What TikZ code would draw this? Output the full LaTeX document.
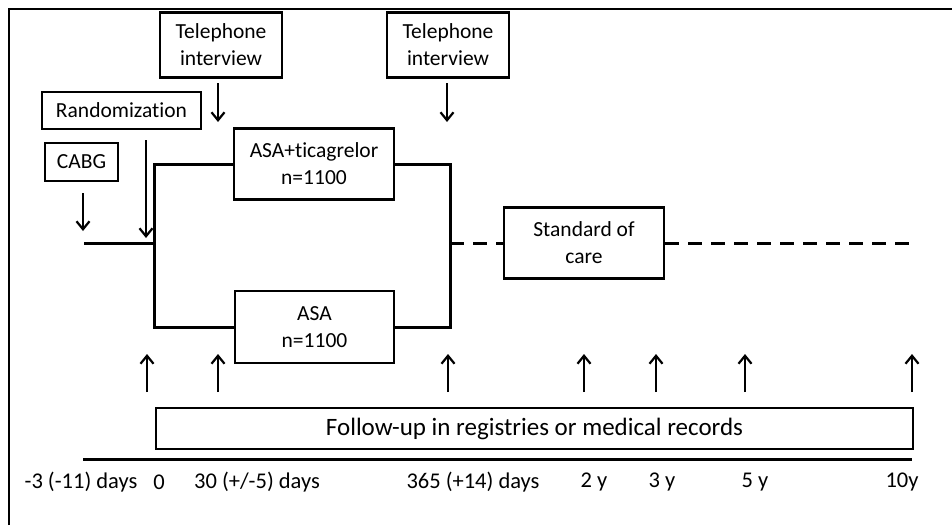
\documentclass[tikz,border=0pt]{standalone}
\usepackage{fontspec}
\setmainfont[Ligatures=NoCommon]{Carlito}
\usepackage{tikz}
\usetikzlibrary{arrows.meta, positioning, calc}

\begin{document}
\begin{tikzpicture}[x=1pt, y=-1pt,
        box/.style={draw, line width=2.6pt, inner sep=0pt, align=center, font=\fontsize{21.5}{27}\selectfont},
        line/.style={line width=3pt},
        dline/.style={line width=3pt, dash pattern=on 14pt off 9pt},
        arr/.style={line width=2.2pt, -{Straight Barb[length=8pt, width=13pt, line width=2.2pt]}},
        lab/.style={font=\fontsize{22.5}{27}\selectfont}]
        \useasboundingbox (0,0) rectangle (952,525);

        % frame
        \draw[line width=2pt] (9,525) -- (9,9) -- (952,9);

        % time points on the axis
        \foreach \n/\x in {m3/83, t0/147, t30/218, t365/448, t2/584, t3/656, t5/745, t10/912}
            \coordinate (\n) at (\x,459);

        \node[box, minimum width=122pt, minimum height=65pt] (tel1) at (221,45) {Telephone\\interview};
        \node[box, minimum width=122pt, minimum height=65pt] (tel2) at (448,45) {Telephone\\interview};
        \node[box, minimum width=159pt, minimum height=37pt] (rand) at (121.5,110.5) {Randomization};
        \node[box, minimum width=73pt, minimum height=38pt] (cabg) at (81.5,162) {CABG};
        \node[box, minimum width=160pt, minimum height=71pt] (asaT) at (314,164) {ASA+ticagrelor\\n=1100};
        \node[box, minimum width=159pt, minimum height=72pt] (asa) at (314.5,327) {ASA\\n=1100};
        \node[box, minimum width=160pt, minimum height=71pt] (soc) at (584,243) {Standard of\\care};
        \node[box, line width=2pt, minimum width=757pt, minimum height=41pt, font=\fontsize{25}{30}\selectfont] (fu) at (534.5,428.5) {Follow-up in registries or medical records};

        \coordinate (start) at (84,243);
        \coordinate (split) at (154,243);
        \coordinate (join) at (450,243);
        \coordinate (end) at (912,243);

        \draw[line] (start) -- (split);
        \draw[line] (asaT.west) -| (split) |- (asa.west);
        \draw[line] (asaT.east) -| (join) |- (asa.east);
        \draw[dline] (join) -- (soc.west);
        \draw[dline] (soc.east) -- (end);

        % event arrows
        \coordinate (cabgA) at (83,193);
        \coordinate (cabgB) at (83,231);
        \coordinate (randA) at (146,140);
        \coordinate (randB) at (146,238);
        \coordinate (telA) at (218,83);
        \coordinate (telB) at (218,122);
        \coordinate (telC) at (447,83);
        \coordinate (telD) at (447,122);
        \draw[arr] (cabgA) -- (cabgB);
        \draw[arr] (randA) -- (randB);
        \draw[arr] (telA) -- (telB);
        \draw[arr] (telC) -- (telD);

        \foreach \t in {t0, t30, t365, t2, t3, t5, t10}
            \draw[arr] ($(\t)+(0,-67)$) -- ($(\t)+(0,-105)$);

        % time axis
        \draw[line] (m3) -- (t10);
        \node[lab] (lm3) at (81,482) {-3 (-11) days};
        \node[lab] (l0) at (159,482) {0};
        \node[lab] (l30) at (257,482) {30 (+/-5) days};
        \node[lab] (l365) at (473,482) {365 (+14) days};
        \node[lab] (l2) at (594,482) {2 y};
        \node[lab] (l3) at (662,482) {3 y};
        \node[lab] (l5) at (755,482) {5 y};
        \node[lab] (l10) at (902,482) {10y};
    \end{tikzpicture}
\end{document}
